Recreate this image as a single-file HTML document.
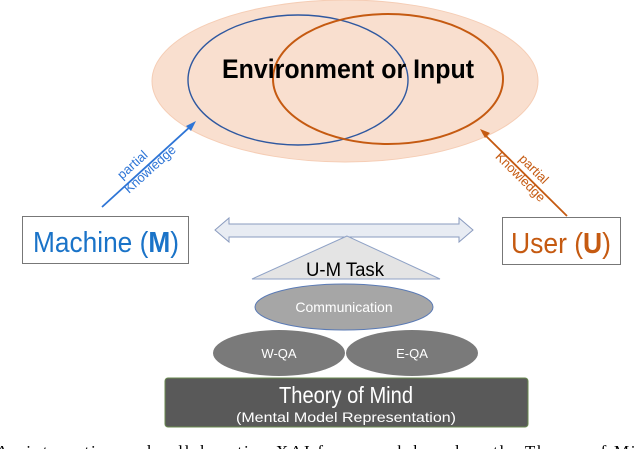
<!DOCTYPE html>
<html><head><meta charset="utf-8"><style>
html,body{margin:0;padding:0;background:#fff;overflow:hidden;width:640px;height:449px}
svg{display:block}
</style></head><body>
<svg width="640" height="449" viewBox="0 0 640 449" xmlns="http://www.w3.org/2000/svg" font-family="Liberation Sans, sans-serif">
<ellipse cx="345" cy="81" rx="193" ry="81" fill="#f9dfcf" stroke="#f5cdb5" stroke-width="1"/>
<ellipse cx="298" cy="80" rx="110" ry="65" fill="none" stroke="#2f58a0" stroke-width="1.4"/>
<ellipse cx="388" cy="79" rx="115" ry="65" fill="none" stroke="#c55a11" stroke-width="2"/>
<text x="348" y="78" text-anchor="middle" font-size="27" font-weight="bold" textLength="252" lengthAdjust="spacingAndGlyphs">Environment or Input</text>
<!-- blue arrow -->
<line x1="102" y1="207" x2="192" y2="125" stroke="#2e75d6" stroke-width="1.8"/>
<polygon points="196,121 186,126 191,131" fill="#2e75d6"/>
<g transform="translate(138,171) rotate(-42)" fill="#2e75d6" font-size="13">
<text x="0" y="-4" text-anchor="middle">partial</text>
<text x="10" y="11" text-anchor="middle">Knowledge</text>
</g>
<!-- orange arrow -->
<line x1="567" y1="216" x2="483" y2="133" stroke="#c55a11" stroke-width="1.8"/>
<polygon points="480,129 490,133 485,138" fill="#c55a11"/>
<g transform="translate(528,175) rotate(45)" fill="#c55a11" font-size="13">
<text x="0" y="-4" text-anchor="middle">partial</text>
<text x="-4" y="11" text-anchor="middle">Knowledge</text>
</g>
<!-- boxes -->
<rect x="22.5" y="216.5" width="166" height="47" fill="#fff" stroke="#777" stroke-width="1"/>
<text x="106" y="252" text-anchor="middle" font-size="29" fill="#1a73c8" textLength="146" lengthAdjust="spacingAndGlyphs">Machine (<tspan font-weight="bold">M</tspan>)</text>
<rect x="502.5" y="217.5" width="118" height="47" fill="#fff" stroke="#777" stroke-width="1"/>
<text x="561" y="253" text-anchor="middle" font-size="29" fill="#c55a11" textLength="100" lengthAdjust="spacingAndGlyphs">User (<tspan font-weight="bold">U</tspan>)</text>
<!-- double arrow -->
<polygon points="215,230 229,218 229,224 459,224 459,218 473,230 459,242 459,237 229,237 229,242" fill="#e8ecf3" stroke="#8a9bbf" stroke-width="1"/>
<!-- triangle -->
<polygon points="347,236 252,279 440,279" fill="#e4e4e4" stroke="#8fa2c6" stroke-width="1"/>
<text x="345" y="276" text-anchor="middle" font-size="19" textLength="78" lengthAdjust="spacingAndGlyphs">U-M Task</text>
<!-- communication -->
<ellipse cx="344" cy="307" rx="89" ry="23" fill="#a6a6a6" stroke="#5a7ab5" stroke-width="1"/>
<text x="344" y="312" text-anchor="middle" font-size="14" fill="#fff">Communication</text>
<ellipse cx="279" cy="353" rx="66" ry="23" fill="#7a7a7a"/>
<text x="279" y="358" text-anchor="middle" font-size="13" fill="#fff">W-QA</text>
<ellipse cx="412" cy="353" rx="66" ry="23" fill="#7a7a7a"/>
<text x="412" y="358" text-anchor="middle" font-size="13" fill="#fff">E-QA</text>
<!-- ToM -->
<rect x="165" y="378" width="363" height="49" rx="3" fill="#595959" stroke="#6a8a50" stroke-width="1"/>
<text x="346" y="403" text-anchor="middle" font-size="23" fill="#fff" textLength="134" lengthAdjust="spacingAndGlyphs">Theory of Mind</text>
<text x="346" y="422" text-anchor="middle" font-size="14" fill="#fff" textLength="220" lengthAdjust="spacingAndGlyphs">(Mental Model Representation)</text>
<!-- caption cut-off -->
<text x="-4" y="457" font-family="Liberation Serif, serif" font-size="17" fill="#000" textLength="660" lengthAdjust="spacing">An interactive and collaborative XAI framework based on the Theory of Mind</text>
</svg>
</body></html>
